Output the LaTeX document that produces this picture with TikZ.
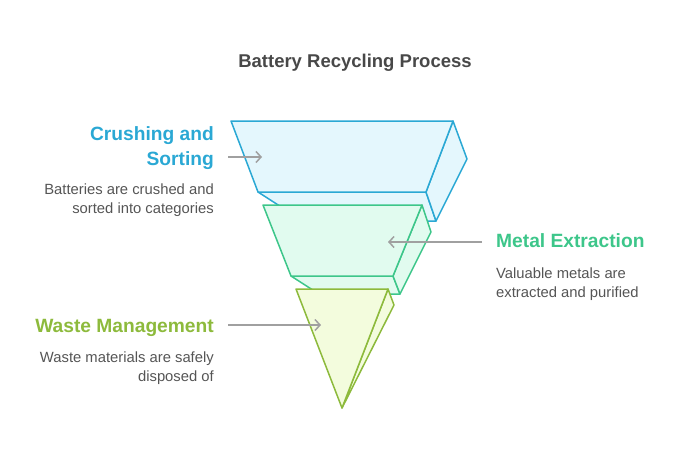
\documentclass[tikz,border=0pt]{standalone}
\usepackage{fontspec}
\setmainfont{Liberation Sans}
\usetikzlibrary{arrows.meta}
\definecolor{bluestroke}{HTML}{2AA8D4}
\definecolor{bluefill}{HTML}{E4F7FD}
\definecolor{greenstroke}{HTML}{3DC68A}
\definecolor{greenfill}{HTML}{E1FBEF}
\definecolor{limestroke}{HTML}{8DBA3C}
\definecolor{limefill}{HTML}{F3FCDD}
\definecolor{titlegray}{HTML}{484848}
\definecolor{bodygray}{HTML}{555555}
\definecolor{arrowgray}{HTML}{A0A0A0}
\tikzset{
  facebox/.style={line width=1.5pt, line join=round},
  heading/.style={inner sep=0pt, font=\bfseries\fontsize{19.2}{25}\selectfont},
  bodytext/.style={inner sep=0pt, text=bodygray, font=\fontsize{14.8}{18.5}\selectfont},
  pointer/.style={draw=arrowgray, line width=1.5pt, -{Straight Barb[length=5pt,width=11pt,line width=1.5pt]}}
}
\begin{document}
\begin{tikzpicture}[x=1pt,y=-1pt]
\useasboundingbox (0,0) rectangle (674,458);
% title
\node[inner sep=0pt, anchor=base, text=titlegray, font=\bfseries\fontsize{18.5}{22}\selectfont] (title) at (355,67) {Battery Recycling Process};
% blue prism
\filldraw[facebox, draw=bluestroke, fill=bluefill] (258,192) -- (426,192) -- (436,221) -- (303,221) -- cycle;
\filldraw[facebox, draw=bluestroke, fill=bluefill] (453,121) -- (467,159) -- (436,221) -- (426,192) -- cycle;
\filldraw[facebox, draw=bluestroke, fill=bluefill] (231,121) -- (453,121) -- (426,192) -- (258,192) -- cycle;
% green prism
\filldraw[facebox, draw=greenstroke, fill=greenfill] (291,276) -- (393,276) -- (400,294) -- (319,294) -- cycle;
\filldraw[facebox, draw=greenstroke, fill=greenfill] (422,205) -- (431,232) -- (400,294) -- (393,276) -- cycle;
\filldraw[facebox, draw=greenstroke, fill=greenfill] (263,205) -- (422,205) -- (393,276) -- (291,276) -- cycle;
% lime pyramid
\filldraw[facebox, draw=limestroke, fill=limefill] (388,289) -- (394,305) -- (342,408) -- cycle;
\filldraw[facebox, draw=limestroke, fill=limefill] (296,289) -- (388,289) -- (342,408) -- cycle;
% targets
\coordinate (t1) at (262,157);
\coordinate (t2) at (388,242);
\coordinate (t3) at (321,325);
% labels (base anchor = baseline of last line)
\node[heading, text=bluestroke, anchor=base east, align=right] (h1) at (214,165) {Crushing and\\Sorting};
\node[bodytext, anchor=base east, align=right] (b1) at (214,213) {Batteries are crushed and\\sorted into categories};
\node[heading, text=greenstroke, anchor=base west] (h2) at (496,247) {Metal Extraction};
\node[bodytext, anchor=base west, align=left] (b2) at (496,297) {Valuable metals are\\extracted and purified};
\node[heading, text=limestroke, anchor=base east] (h3) at (214,332) {Waste Management};
\node[bodytext, anchor=base east, align=right] (b3) at (214,381) {Waste materials are safely\\disposed of};
% pointers
\coordinate (s1) at (228,157);
\coordinate (s2) at (482,242);
\coordinate (s3) at (228,325);
\draw[pointer] (s1) -- (t1);
\draw[pointer] (s2) -- (t2);
\draw[pointer] (s3) -- (t3);
\end{tikzpicture}
\end{document}
